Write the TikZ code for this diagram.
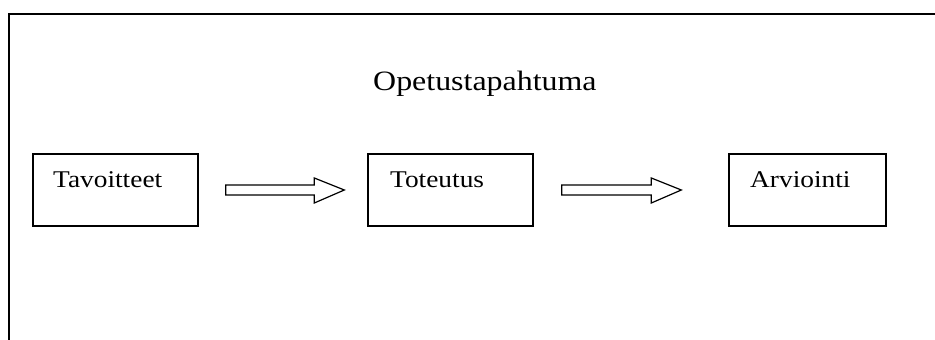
\documentclass[tikz,border=0pt]{standalone}
\usepackage{fontspec}
\setmainfont{Liberation Serif}[FakeStretch=1.14]
\begin{document}
\begin{tikzpicture}[x=1pt,y=-1pt,
  box/.style={draw=black,line width=1.4pt,minimum height=72pt,inner sep=0pt},
  lbl/.style={font=\fontsize{24}{28}\selectfont,inner sep=0pt,anchor=base west},
  blockarrow/.style={draw=black,line width=1.2pt,fill=white}]
\useasboundingbox (0,0) rectangle (935,340);
\draw[line width=2pt] (9,340) -- (9,14) -- (935,14);
\node[font=\fontsize{28}{33}\selectfont,inner sep=0pt,anchor=base west] (title) at (373,90) {Opetustapahtuma};
\node[box,minimum width=165pt] (b1) at (115.5,190) {};
\node[box,minimum width=165pt] (b2) at (450.5,190) {};
\node[box,minimum width=157pt] (b3) at (807.5,190) {};
\node[lbl] (t1) at (53,187) {Tavoitteet};
\node[lbl] (t2) at (390,187) {Toteutus};
\node[lbl] (t3) at (750,187) {Arviointi};
\coordinate (a1s) at ([xshift=27pt]b1.east);
\coordinate (a1e) at ([xshift=-23pt]b2.west);
\coordinate (a2s) at ([xshift=28pt]b2.east);
\coordinate (a2e) at ([xshift=-47pt]b3.west);
\draw[blockarrow] ([yshift=-5pt]a1s) -- ([xshift=-30pt,yshift=-5pt]a1e) -- ([xshift=-30pt,yshift=-13pt]a1e) -- (a1e) -- ([xshift=-30pt,yshift=12pt]a1e) -- ([xshift=-30pt,yshift=5pt]a1e) -- ([yshift=5pt]a1s) -- cycle;
\draw[blockarrow] ([yshift=-5pt]a2s) -- ([xshift=-30pt,yshift=-5pt]a2e) -- ([xshift=-30pt,yshift=-13pt]a2e) -- (a2e) -- ([xshift=-30pt,yshift=12pt]a2e) -- ([xshift=-30pt,yshift=5pt]a2e) -- ([yshift=5pt]a2s) -- cycle;
\end{tikzpicture}
\end{document}
